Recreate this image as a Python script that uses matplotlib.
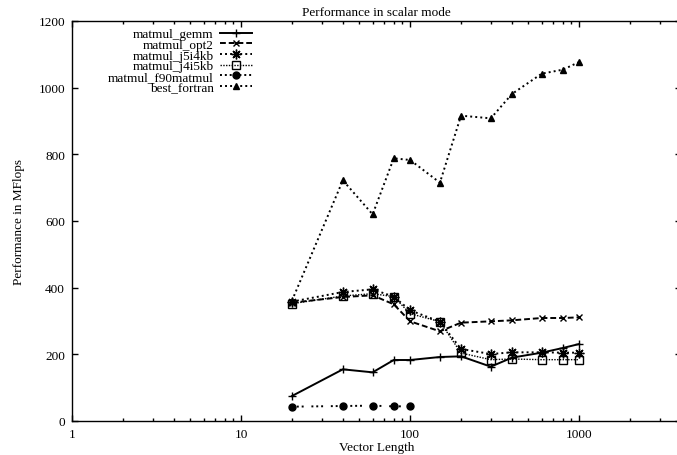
import matplotlib
matplotlib.use("Agg")
import matplotlib.pyplot as plt

plt.rcParams["font.family"] = ["Liberation Serif", "DejaVu Serif"]
plt.rcParams["font.size"] = 9.5

# vector lengths used by each series
n_full = [20, 40, 60, 80, 100, 150, 200, 300, 400, 600, 800, 1000]
n_f90 = [20, 40, 60, 80, 100]

gemm = [75, 155, 146, 183, 183, 192, 194, 163, 190, 205, 219, 231]
opt2 = [355, 372, 377, 350, 299, 269, 295, 299, 302, 309, 309, 311]
j5i4kb = [358, 387, 395, 373, 332, 298, 216, 201, 206, 206, 205, 205]
j4i5kb = [352, 375, 382, 373, 322, 298, 204, 184, 186, 184, 184, 184]
f90matmul = [43, 45, 46, 44, 44]
best_fortran = [361, 722, 620, 788, 783, 715, 916, 908, 981, 1042, 1054, 1077]

fig = plt.figure(figsize=(6.77, 4.56), dpi=100)
ax = fig.add_axes([72 / 677, 34 / 456, 609 / 677, 400 / 456])

lw = 1.4
ax.plot(n_full, gemm, color="black", lw=lw, ls="-", marker="+", ms=6,
        mew=1.0, label="matmul_gemm")
ax.plot(n_full, opt2, color="black", lw=lw, ls=(0, (3, 1.5)), marker="x", ms=5,
        mew=1.0, label="matmul_opt2")
ax.plot(n_full, j5i4kb, color="black", lw=lw, ls=(0, (1, 1.6)), marker=(8, 2, 0),
        ms=7, mew=1.0, label="matmul_j5i4kb")
ax.plot(n_full, j4i5kb, color="black", lw=1.0, ls=(0, (1, 1)), marker="s", ms=5.5,
        mfc="none", mew=1.0, label="matmul_j4i5kb")
ax.plot(n_f90, f90matmul, color="black", lw=lw, ls=(0, (1, 1.5, 1, 1.5, 1, 4)),
        marker="o", ms=5, label="matmul_f90matmul")
ax.plot(n_full, best_fortran, color="black", lw=lw, ls=(0, (1, 1.6)), marker="^",
        ms=5, label="best_fortran")

ax.set_xscale("log")
ax.set_xlim(1, 4000)
ax.set_ylim(0, 1200)
ax.set_yticks(range(0, 1201, 200))
ax.set_xticks([1, 10, 100, 1000])
ax.set_xticklabels(["1", "10", "100", "1000"])

ax.tick_params(which="both", direction="in", top=True, right=True, width=1.0,
               colors="black", labelsize=9.5)
ax.tick_params(which="major", length=4.5, pad=5)
ax.tick_params(which="minor", length=2.5)
for s in ax.spines.values():
    s.set_linewidth(1.0)

ax.set_title("Performance in scalar mode", fontsize=9.5, pad=4)
ax.set_xlabel("Vector Length", labelpad=1)
ax.set_ylabel("Performance in MFlops", labelpad=10)

ax.legend(loc="upper right", bbox_to_anchor=(252 / 677, 1 - 29 / 456),
          bbox_transform=fig.transFigure, frameon=False, markerfirst=False,
          handlelength=2.4, handletextpad=0.5, labelspacing=-0.12, borderpad=0,
          borderaxespad=0, fontsize=9.5)

fig.savefig("out.png", dpi=100)
